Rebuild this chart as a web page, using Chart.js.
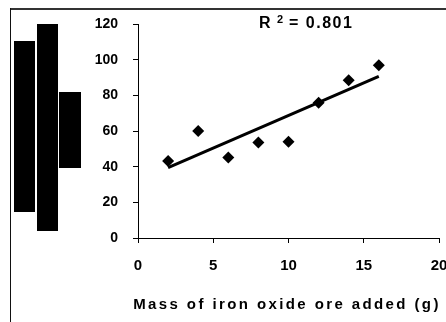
<!DOCTYPE html>
<html>
<head>
<meta charset="utf-8">
<script src="https://cdn.jsdelivr.net/npm/chart.js@4.4.1/dist/chart.umd.min.js"></script>
<style>
  html, body { margin: 0; padding: 0; background: #fff; }
  #wrap { position: relative; width: 446px; height: 322px; overflow: hidden; }
  canvas { position: absolute; left: 0; top: 0; }
  .box { position: absolute; background: #000; }
</style>
</head>
<body>
<div id="wrap">
  <canvas id="myChart" width="446" height="322"></canvas>
  <!-- blacked out y axis title -->
  <div class="box" style="left:14px; top:41px; width:21px; height:171px"></div>
  <div class="box" style="left:37px; top:24px; width:21px; height:207px"></div>
  <div class="box" style="left:59px; top:92px; width:22px; height:76px"></div>
</div>
<script>
// measured points
var massAdded = [2, 4, 6, 8, 10, 12, 14, 16]
var response = [43.2, 60, 45.2, 53.5, 54, 75.9, 88.4, 96.8]
// trend line ends
var trendX = [2, 16]
var trendY = [39.5, 90.6]
var xTicks = [0, 5, 10, 15, 20]
var yTicks = [0, 20, 40, 60, 80, 100, 120]
var r2Label = '0.801'
var xTitle = 'Mass of iron oxide ore added (g)'

var fontFamily = '"Liberation Sans", Arial, sans-serif'

// frame and texts
var extras = {
  id: 'extras',
  beforeDraw: function (chart) {
    var c = chart.ctx
    c.save()
    c.fillStyle = '#333'
    c.fillRect(10, 8, 436, 2)
    c.fillStyle = '#111'
    c.fillRect(10, 8, 1, 314)
    c.restore()
  },
  afterDraw: function (chart) {
    var c = chart.ctx
    c.save()
    c.fillStyle = '#000'
    c.textBaseline = 'middle'
    c.textAlign = 'left'
    c.letterSpacing = '1.5px'
    c.font = 'bold 16px ' + fontFamily
    c.fillText('R', 259, 24)
    c.font = 'bold 11px ' + fontFamily
    c.fillText('2', 277, 20)
    c.font = 'bold 16px ' + fontFamily
    c.fillText('= ' + r2Label, 289, 24)
    c.letterSpacing = '2.4px'
    c.textAlign = 'center'
    c.font = 'bold 15px ' + fontFamily
    c.fillText(xTitle, 287, 305)
    c.restore()
  }
}

var ctx = document.getElementById('myChart')
var pts = massAdded.map(function (x, i) { return { x: x, y: response[i] } })
var trend = trendX.map(function (x, i) { return { x: x, y: trendY[i] } })

new Chart(ctx, {
  type: 'scatter',
  data: {
    datasets: [{
      data: pts,
      pointStyle: 'rectRot',
      pointRadius: 6,
      backgroundColor: '#000',
      borderColor: '#000',
      borderWidth: 0
    }, {
      type: 'line',
      data: trend,
      borderColor: '#000',
      borderWidth: 3,
      pointRadius: 0,
      fill: false
    }]
  },
  options: {
    responsive: false,
    animation: false,
    events: [],
    layout: { autoPadding: false, padding: { left: 0, right: 7, top: 24, bottom: 0 } },
    plugins: { legend: { display: false }, tooltip: { enabled: false } },
    scales: {
      x: {
        type: 'linear',
        min: 0,
        max: 20,
        afterFit: function (s) {
          s.height = 84
          s.paddingLeft = 0
          s.paddingRight = 0
        },
        afterBuildTicks: function (s) { s.ticks = xTicks.map(function (v) { return { value: v } }) },
        grid: { drawOnChartArea: false, drawTicks: true, tickLength: 5, color: '#000' },
        border: { display: true, color: '#000', width: 1 },
        ticks: { color: '#000', padding: 14, font: { family: fontFamily, size: 15, weight: 'bold' } }
      },
      y: {
        min: 0,
        max: 120,
        afterFit: function (s) {
          s.width = 138
          s.paddingTop = 0
          s.paddingBottom = 0
        },
        afterBuildTicks: function (s) { s.ticks = yTicks.map(function (v) { return { value: v } }) },
        grid: { drawOnChartArea: false, drawTicks: true, tickLength: 5, color: '#000' },
        border: { display: true, color: '#000', width: 1 },
        ticks: { color: '#000', padding: 15, font: { family: fontFamily, size: 14, weight: 'bold' } }
      }
    }
  },
  plugins: [extras]
})
</script>
</body>
</html>
